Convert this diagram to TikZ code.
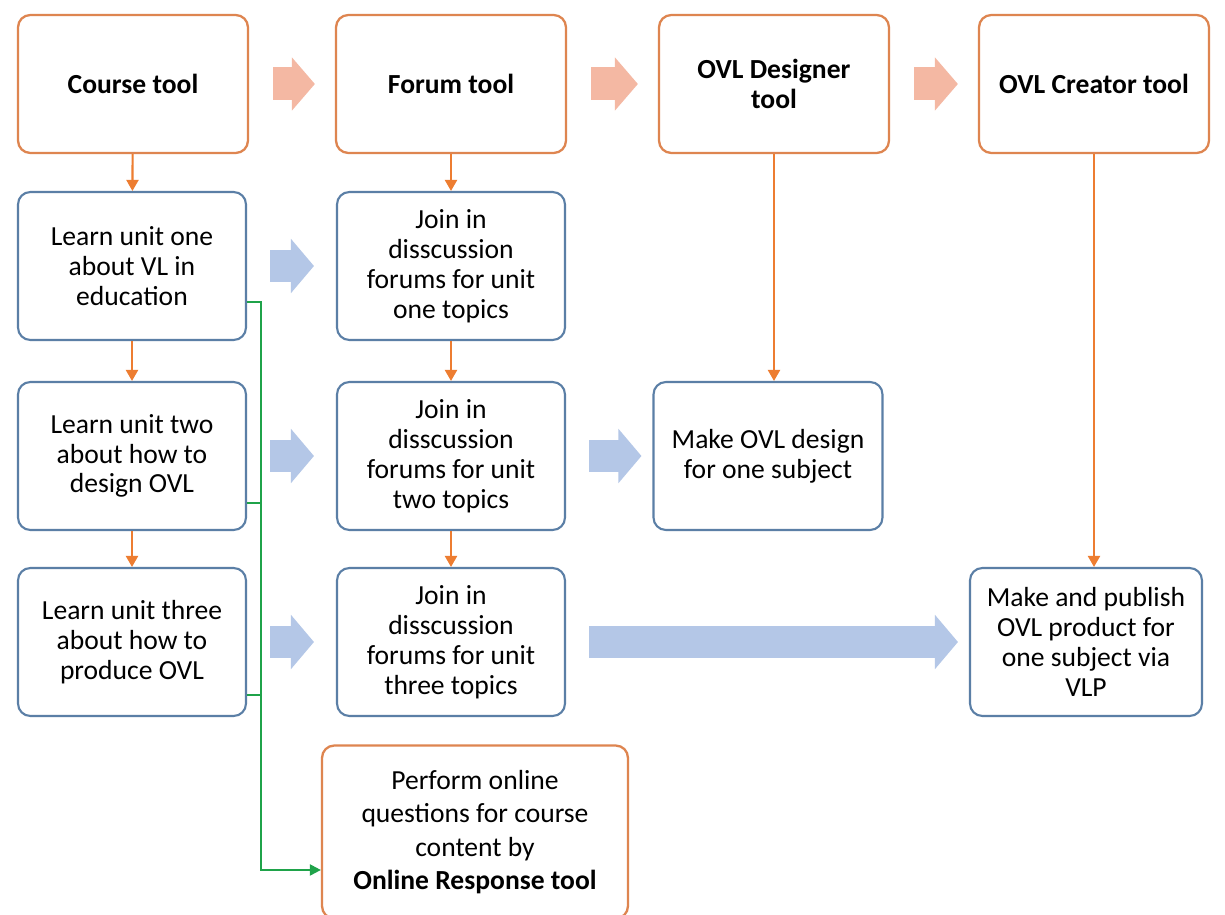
\documentclass[tikz,border=0pt]{standalone}
\usepackage{fontspec}
\setmainfont{Carlito}
\usetikzlibrary{positioning, arrows.meta, calc}
\usepackage{xcolor}
\definecolor{ovlorange}{HTML}{DE8550}
\definecolor{ovlblue}{HTML}{5B7FA6}
\definecolor{floworange}{HTML}{ED7D31}
\definecolor{pinkarrow}{HTML}{F4B8A3}
\definecolor{bluearrow}{HTML}{B4C7E7}
\definecolor{quizgreen}{HTML}{1FA34A}

\begin{document}
\begin{tikzpicture}[x=0.02cm, y=-0.02cm,
    toolbox/.style={draw=ovlorange, fill=white, line width=1.3pt, rounded corners=7pt,
          font=\fontsize{15.7}{17}\selectfont\bfseries, minimum width=4.6cm,
          minimum height=2.76cm, align=center},
    unitbox/.style={draw=ovlblue, fill=white, line width=1.2pt, rounded corners=7pt,
          font=\fontsize{15.7}{17}\selectfont, minimum width=4.56cm,
          minimum height=2.96cm, align=center},
    flow/.style={-{Triangle[length=0.22cm,width=0.24cm]}, line width=1.2pt, color=floworange},
    pinkstep/.style={line width=0.66cm, color=pinkarrow, shorten <=0.48cm, shorten >=0.4cm,
          -{Triangle[length=0.46cm,width=1.04cm]}},
    bluestep/.style={line width=0.64cm, color=bluearrow, shorten <=0.46cm, shorten >=0.44cm,
          -{Triangle[length=0.46cm,width=1.06cm]}},
    quizline/.style={line width=1.2pt, color=quizgreen},
  ]
    \useasboundingbox[fill=white] (0,0) rectangle (1225,915);

    % tools
    \node[toolbox] (course) at (133,84) {Course tool};
    \node[toolbox] (forum) at (451,84) {Forum tool};
    \node[toolbox] (designer) at (774,84) {OVL Designer\\tool};
    \node[toolbox] (creator) at (1094,84) {OVL Creator tool};

    % units
    \node[unitbox] (learnA) at (132,266) {Learn unit one\\about VL in\\education};
    \node[unitbox] (joinA) at (451,266) {Join in\\disscussion\\forums for unit\\one topics};
    \node[unitbox] (learnB) at (132,456) {Learn unit two\\about how to\\design OVL};
    \node[unitbox] (joinB) at (451,456) {Join in\\disscussion\\forums for unit\\two topics};
    \node[unitbox, minimum width=4.58cm] (design) at (768,456) {Make OVL design\\for one subject};
    \node[unitbox] (learnC) at (132,642) {Learn unit three\\about how to\\produce OVL};
    \node[unitbox] (joinC) at (451,642) {Join in\\disscussion\\forums for unit\\three topics};
    \node[unitbox, minimum width=4.64cm] (publish) at (1086,642) {Make and publish\\OVL product for\\one subject via\\VLP};

    \node[toolbox, font=\fontsize{15.7}{19}\selectfont, minimum width=6.12cm,
          minimum height=3.46cm] (perform) at (475,832)
          {Perform online\\questions for course\\content by\\\textbf{Online Response tool}};

    % big arrows
    \draw[pinkstep] (course) -- (forum);
    \draw[pinkstep] (forum) -- (designer);
    \draw[pinkstep] (designer) -- (creator);
    \draw[bluestep] (learnA) -- (joinA);
    \draw[bluestep] (learnB) -- (joinB);
    \draw[bluestep] (learnC) -- (joinC);
    \draw[bluestep, shorten >=0.22cm] (joinB) -- (design);
    \draw[bluestep, shorten >=0.22cm] (joinC) -- (publish);

    % flow down
    \draw[flow] (course) -- (learnA);
    \draw[flow] (learnA) -- (learnB);
    \draw[flow] (learnB) -- (learnC);
    \draw[flow] (forum) -- (joinA);
    \draw[flow] (joinA) -- (joinB);
    \draw[flow] (joinB) -- (joinC);
    \draw[flow] (designer.south) -- (designer.south |- design.north);
    \draw[flow] (creator.south) -- (creator.south |- publish.north);

    % questions
    \draw[quizline, -{Triangle[length=0.22cm,width=0.22cm]}]
          ([yshift=-0.72cm]learnA.east) -- ++(0.28cm,0) |- ([yshift=-0.76cm]perform.west);
    \draw[quizline] ([yshift=-0.94cm]learnB.east) -- ++(0.28cm,0);
    \draw[quizline] ([yshift=-1.06cm]learnC.east) -- ++(0.28cm,0);
  \end{tikzpicture}
\end{document}
